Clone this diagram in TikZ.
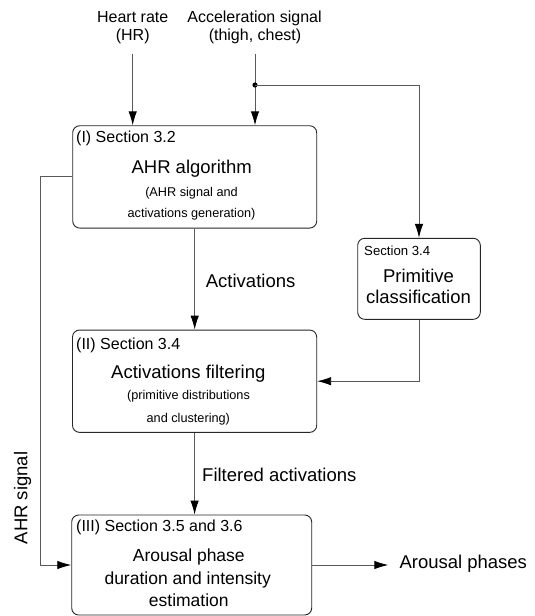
\documentclass[tikz,border=0pt]{standalone}
\usepackage{fontspec}
\setmainfont{Liberation Sans}
\usetikzlibrary{arrows.meta}
\begin{document}
\begin{tikzpicture}[x=1pt,y=-1pt,
  box/.style={draw=black!85, line width=0.9pt, rounded corners=7pt, inner sep=0pt},
  conn/.style={draw=black!65, line width=0.9pt},
  arr/.style={conn, -{Latex[length=14pt,width=8.5pt,color=black]}},
  txtbig/.style={font=\fontsize{18.5}{20}\selectfont, inner sep=0pt, anchor=base},
  txtmid/.style={font=\fontsize{17.5}{19}\selectfont, inner sep=0pt, anchor=base},
  txtsec/.style={font=\fontsize{16}{18}\selectfont, inner sep=0pt, anchor=base west},
  txtin/.style={font=\fontsize{16}{18}\selectfont, inner sep=0pt, anchor=base},
  txtsmall/.style={font=\fontsize{12.7}{14}\selectfont, inner sep=0pt, anchor=base},
  txtsecs/.style={font=\fontsize{13.2}{15}\selectfont, inner sep=0pt, anchor=base west}
]
\useasboundingbox (0,0) rectangle (535,616);

% boxes
\node[box, minimum width=244pt, minimum height=102.3pt] (b1) at (194.7,176.9) {};
\node[box, minimum width=244.2pt, minimum height=102.3pt] (b2) at (194.6,381.2) {};
\node[box, minimum width=240pt, minimum height=100pt] (b3) at (191.7,565) {};
\node[box, minimum width=122.6pt, minimum height=81pt] (prim) at (419,278.8) {};

% inputs
\node[txtin] (hr1) at (132.7,22.7) {Heart rate};
\node[txtin] (hr2) at (132.7,40) {(HR)};
\node[txtin] (ac1) at (254.5,22.7) {Acceleration signal};
\node[txtin] (ac2) at (255,40) {(thigh, chest)};

% box I text
\node[txtsec] (s1) at (76,142.5) {(I) Section 3.2};
\node[txtbig] (t1) at (191.7,173.3) {AHR algorithm};
\node[txtsmall] (t1a) at (191.5,196) {(AHR signal and};
\node[txtsmall] (t1b) at (191.5,217.8) {activations generation)};

% primitive text
\node[txtsecs] (sp) at (364,255.4) {Section 3.4};
\node[txtbig] (tp1) at (418.5,282) {Primitive};
\node[txtbig] (tp2) at (418.5,303.3) {classification};

% box II text
\node[txtsec] (s2) at (76,349) {(II) Section 3.4};
\node[txtbig] (t2) at (188.3,378.3) {Activations filtering};
\node[txtsmall] (t2a) at (188.5,399.5) {(primitive distributions};
\node[txtsmall] (t2b) at (188.3,422.8) {and clustering)};

% box III text
\node[txtsec] (s3) at (76,531.6) {(III) Section 3.5 and 3.6};
\node[txtmid] (t3a) at (188.8,561) {Arousal phase};
\node[txtmid] (t3b) at (187.7,584.5) {duration and intensity};
\node[txtmid] (t3c) at (188.8,606.5) {estimation};

% connector labels
\node[txtbig, anchor=base west] (lact) at (205.7,287.6) {Activations};
\node[txtbig, anchor=base west] (lfil) at (202,481.4) {Filtered activations};
\node[txtbig, anchor=base west] (lout) at (399.3,568.3) {Arousal phases};
\node[font=\fontsize{18.5}{20}\selectfont, inner sep=0pt, rotate=90] (lahr) at (22.7,498) {AHR signal};

% coordinates
\coordinate (hrtop) at (132.7,54.3);
\coordinate (actop) at (255,54.3);
\coordinate (split) at (255,85);
\coordinate (out) at (388.3,565);

% connectors
\draw[arr] (hrtop) -- (hrtop |- b1.north);
\draw[arr] (actop) -- (actop |- b1.north);
\fill[black] (split) circle (2.6pt);
\draw[arr] (split) -| (prim.north);
\draw[arr] (b1.west) -- ++(-31.7,0) |- (b3.west);
\draw[arr] (b1.south) -- (b1.south |- b2.north);
\draw[arr] (prim.south) |- (b2.east);
\draw[arr] (b2.south) -- (b2.south |- b3.north);
\draw[arr] (b3.east) -- (out);
\end{tikzpicture}
\end{document}
